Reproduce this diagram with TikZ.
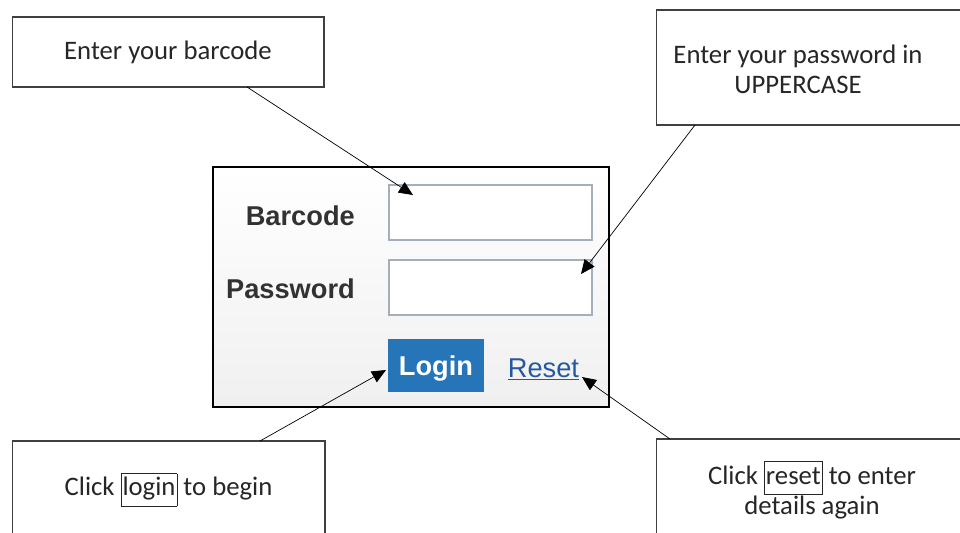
\documentclass[tikz,border=0pt]{standalone}
\usepackage{fontspec}
\setmainfont{Carlito}
\newfontfamily\formfont{Liberation Sans}
\usetikzlibrary{positioning,arrows.meta}

\definecolor{btnblue}{RGB}{38,117,184}
\definecolor{linkblue}{RGB}{36,88,160}
\definecolor{fieldgray}{RGB}{165,175,185}
\definecolor{labelgray}{RGB}{50,50,50}

\newcommand{\boxword}[1]{{\fboxsep=0.6pt\fboxrule=0.5pt\fbox{\strut #1}}}

\begin{document}
\begin{tikzpicture}[x=0.02cm, y=-0.02cm,
    note/.style={draw=black!75, line width=0.6pt, inner sep=0pt, align=center,
        font=\fontsize{15.2}{17}\selectfont, text=black!85},
    field/.style={draw=fieldgray, line width=1.1pt, fill=white,
        minimum width=4.06cm, minimum height=1.1cm},
    formlabel/.style={anchor=base east, text=labelgray,
        font=\formfont\bfseries\fontsize{15.5}{18}\selectfont},
    pointer/.style={-{Triangle[length=8pt,width=7pt]}, line width=0.4pt}]
    \clip (0,0) rectangle (960,532);
    \fill[white] (0,0) rectangle (960,532);

    % callouts
    \node[note, minimum width=6.24cm, minimum height=1.4cm] (bcNote) at (168,52) {Enter your barcode};
    \node[note, minimum width=6.12cm, minimum height=2.3cm] (pwNote) at (809,67.5) {};
    \node[note, draw=none] (pwText) at (798,69) {Enter your password in\\UPPERCASE};
    \node[note, minimum width=6.26cm, minimum height=1.96cm] (loginNote) at (168.5,490) {Click \boxword{login} to begin};
    \node[note, minimum width=6.24cm, minimum height=2.04cm] (resetNote) at (812,490) {Click \boxword{reset} to enter\\details again};

    % login form
    \node[draw, line width=1.6pt, top color=white, bottom color=black!6,
        minimum width=7.92cm, minimum height=4.8cm] (form) at (411,287) {};
    \node[field] (bcField) at (490.5,212.5) {};
    \node[field] (pwField) at (490.5,287.5) {};
    \node[formlabel] (bcLabel) at (361,225) {Barcode};
    \node[formlabel] (pwLabel) at (361,298) {Password};
    \node[fill=btnblue, minimum width=1.92cm, minimum height=1.06cm, text=white,
        text height=11pt, text depth=0pt,
        font=\formfont\bfseries\fontsize{15.5}{18}\selectfont] (login) at (436,365.5) {Login};
    \node[anchor=base, text=linkblue, inner sep=0pt,
        font=\formfont\fontsize{15.5}{18}\selectfont] (reset) at (543.5,377) {\underline{Reset}};

    % pointers
    \coordinate (bcFoot) at (247,87);
    \coordinate (bcTip) at (413,195);
    \coordinate (pwFoot) at (695,125);
    \coordinate (pwTip) at (581,274);
    \coordinate (loginFoot) at (260,441);
    \coordinate (loginTip) at (386,370);
    \coordinate (resetFoot) at (670,439);
    \coordinate (resetTip) at (582,377);

    \draw[pointer] (bcFoot) -- (bcTip);
    \draw[pointer] (pwFoot) -- (pwTip);
    \draw[pointer] (loginFoot) -- (loginTip);
    \draw[pointer] (resetFoot) -- (resetTip);
\end{tikzpicture}
\end{document}
